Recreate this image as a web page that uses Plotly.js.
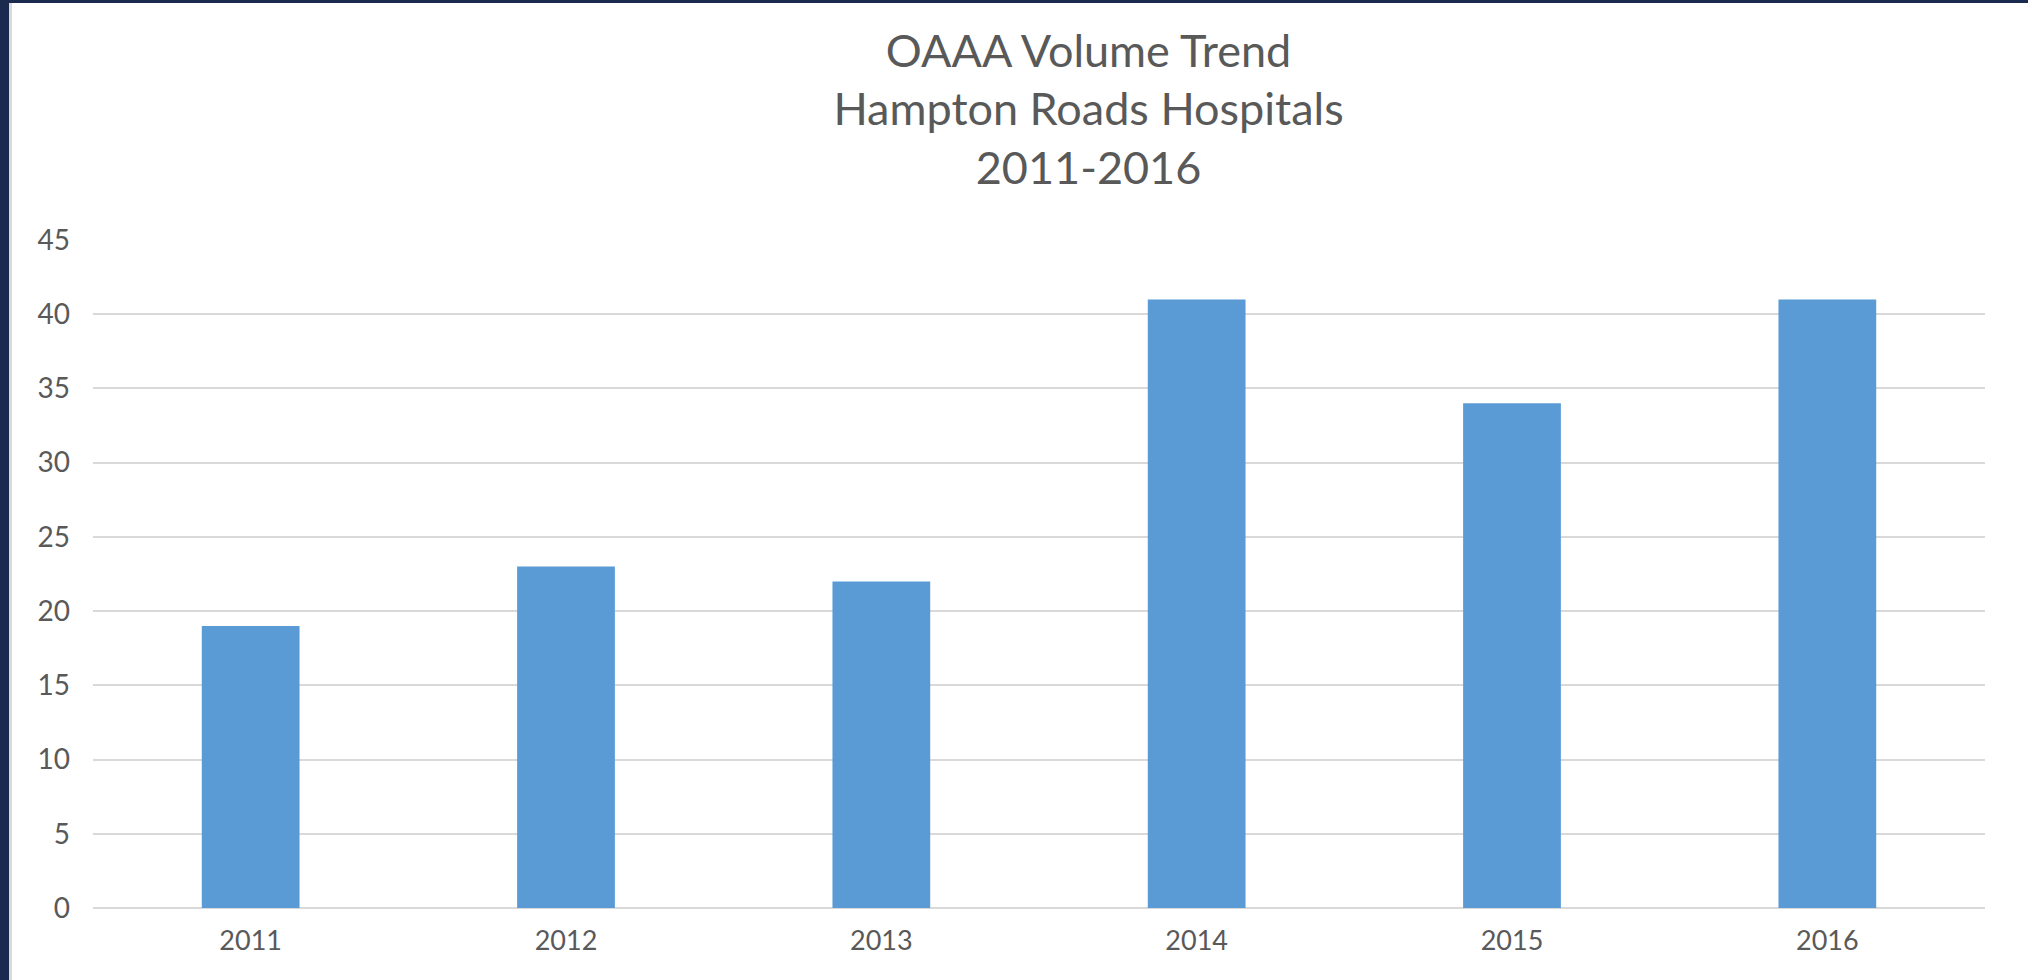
<!DOCTYPE html>
<html>
<head>
<meta charset="utf-8">
<script src="https://cdn.plot.ly/plotly-3.0.1.min.js"></script>
<style>
  html, body { margin: 0; padding: 0; width: 2028px; height: 980px; overflow: hidden; background: #1B2B4F; }
  #frame { position: absolute; left: 9px; top: 3px; width: 2019px; height: 977px; background: #fff; border-left: 3px solid #D9D9D9; box-sizing: border-box; }
  #plot { position: absolute; left: 0; top: 0; width: 2016px; height: 977px; }
</style>
</head>
<body>
<div id="frame"><div id="plot"></div></div>
<script>
const years = ['2011', '2012', '2013', '2014', '2015', '2016'];
const volumes = [19, 23, 22, 41, 34, 41];
const yTicks = [0, 5, 10, 15, 20, 25, 30, 35, 40, 45];
const titleLines = ['OAAA Volume Trend', 'Hampton Roads Hospitals', '2011-2016'];

const textColor = '#595959';
const fontFamily = 'Lato, "Open Sans", sans-serif';

const trace = {
  type: 'bar',
  x: years,
  y: volumes,
  marker: { color: '#5B9BD5' },
  hoverinfo: 'x+y'
};

const layout = {
  width: 2016,
  height: 977,
  paper_bgcolor: '#ffffff',
  plot_bgcolor: '#ffffff',
  margin: { l: 81, r: 43, t: 237, b: 72 },
  bargap: 0.69,
  showlegend: false,
  title: {
    text: titleLines.join('<br>'),
    font: { family: fontFamily, size: 45, color: textColor },
    x: 0.534,
    xanchor: 'center',
    xref: 'container',
    yref: 'container',
    y: 0.935,
    yanchor: 'middle'
  },
  xaxis: {
    type: 'category',
    tickfont: { family: fontFamily, size: 27, color: textColor },
    showgrid: false,
    showline: false,
    ticks: '',
    ticklabelstandoff: 14,
    fixedrange: true
  },
  yaxis: {
    range: [0, 45],
    tickvals: yTicks,
    ticktext: yTicks.map(String),
    tickfont: { family: fontFamily, size: 28, color: textColor },
    showgrid: true,
    gridcolor: '#D9D9D9',
    gridwidth: 2,
    zeroline: true,
    zerolinecolor: '#D9D9D9',
    zerolinewidth: 2,
    showline: false,
    ticks: '',
    ticklabelstandoff: 22,
    fixedrange: true
  }
};

Plotly.newPlot('plot', [trace], layout, { displayModeBar: false, staticPlot: true });
</script>
</body>
</html>
